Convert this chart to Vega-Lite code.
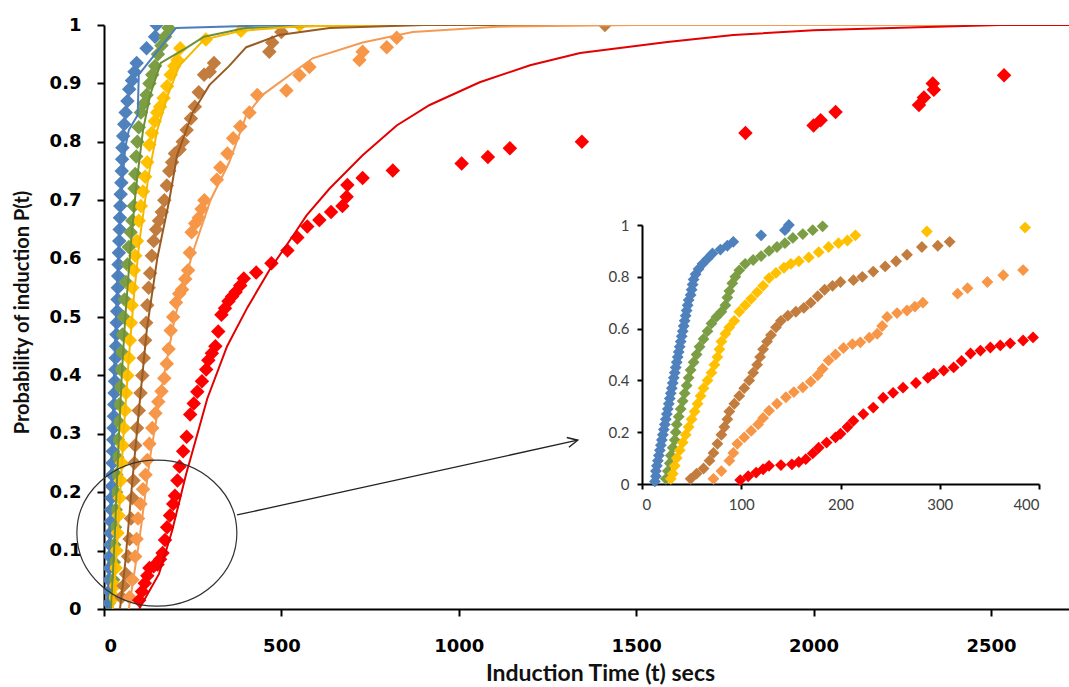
{
"$schema": "https://vega.github.io/schema/vega-lite/v6.json",
"width": 965, "height": 584,
"autosize": {"type": "none"},
"padding": {"left": 104, "top": 25, "right": 0, "bottom": 78},
"background": "white",
"config": {"view": {"stroke": null}, "axis": {"grid": false, "domainColor": "black", "tickColor": "black"}},
"datasets": {
"pts": [
{"s":"B","t":13,"p":0.01},{"s":"B","t":14,"p":0.03},{"s":"B","t":14,"p":0.05},{"s":"B","t":15,"p":0.07},{"s":"B","t":16,"p":0.09},{"s":"B","t":17,"p":0.11},{"s":"B","t":18,"p":0.13},{"s":"B","t":19,"p":0.15},{"s":"B","t":20,"p":0.17},{"s":"B","t":21,"p":0.19},{"s":"B","t":22,"p":0.21},{"s":"B","t":23,"p":0.23},{"s":"B","t":24,"p":0.25},{"s":"B","t":25,"p":0.27},{"s":"B","t":26,"p":0.29},{"s":"B","t":27,"p":0.31},{"s":"B","t":28,"p":0.33},{"s":"B","t":29,"p":0.35},{"s":"B","t":30,"p":0.37},{"s":"B","t":31,"p":0.39},{"s":"B","t":32,"p":0.41},{"s":"B","t":33,"p":0.43},{"s":"B","t":34,"p":0.45},{"s":"B","t":35,"p":0.47},{"s":"B","t":36,"p":0.49},{"s":"B","t":37,"p":0.51},{"s":"B","t":38,"p":0.53},{"s":"B","t":39,"p":0.55},{"s":"B","t":40,"p":0.57},{"s":"B","t":41,"p":0.59},{"s":"B","t":42,"p":0.61},{"s":"B","t":43,"p":0.63},{"s":"B","t":44,"p":0.65},{"s":"B","t":45,"p":0.67},{"s":"B","t":46,"p":0.69},{"s":"B","t":47,"p":0.71},{"s":"B","t":49,"p":0.73},{"s":"B","t":50,"p":0.75},{"s":"B","t":51,"p":0.77},{"s":"B","t":52,"p":0.79},{"s":"B","t":54,"p":0.81},{"s":"B","t":57,"p":0.83},{"s":"B","t":61,"p":0.85},{"s":"B","t":66,"p":0.87},{"s":"B","t":71,"p":0.89},{"s":"B","t":79,"p":0.905},{"s":"B","t":86,"p":0.92},{"s":"B","t":92,"p":0.935},{"s":"B","t":120,"p":0.96},{"s":"B","t":144,"p":0.98},{"s":"B","t":148,"p":1.0},
{"s":"G","t":24,"p":0.02},{"s":"G","t":26,"p":0.05},{"s":"G","t":28,"p":0.08},{"s":"G","t":29,"p":0.11},{"s":"G","t":31,"p":0.14},{"s":"G","t":33,"p":0.17},{"s":"G","t":34,"p":0.2},{"s":"G","t":35,"p":0.23},{"s":"G","t":37,"p":0.26},{"s":"G","t":39,"p":0.29},{"s":"G","t":41,"p":0.32},{"s":"G","t":43,"p":0.35},{"s":"G","t":45,"p":0.38},{"s":"G","t":47,"p":0.41},{"s":"G","t":49,"p":0.44},{"s":"G","t":52,"p":0.47},{"s":"G","t":55,"p":0.5},{"s":"G","t":58,"p":0.53},{"s":"G","t":62,"p":0.56},{"s":"G","t":66,"p":0.59},{"s":"G","t":70,"p":0.62},{"s":"G","t":75,"p":0.645},{"s":"G","t":80,"p":0.665},{"s":"G","t":84,"p":0.69},{"s":"G","t":86,"p":0.72},{"s":"G","t":88,"p":0.745},{"s":"G","t":91,"p":0.775},{"s":"G","t":94,"p":0.8},{"s":"G","t":98,"p":0.825},{"s":"G","t":104,"p":0.85},{"s":"G","t":112,"p":0.865},{"s":"G","t":120,"p":0.88},{"s":"G","t":128,"p":0.9},{"s":"G","t":136,"p":0.915},{"s":"G","t":144,"p":0.93},{"s":"G","t":152,"p":0.95},{"s":"G","t":162,"p":0.965},{"s":"G","t":172,"p":0.98},{"s":"G","t":182,"p":0.995},
{"s":"Y","t":29,"p":0.02},{"s":"Y","t":31,"p":0.04},{"s":"Y","t":33,"p":0.07},{"s":"Y","t":35,"p":0.1},{"s":"Y","t":38,"p":0.13},{"s":"Y","t":41,"p":0.16},{"s":"Y","t":44,"p":0.19},{"s":"Y","t":47,"p":0.22},{"s":"Y","t":50,"p":0.25},{"s":"Y","t":53,"p":0.28},{"s":"Y","t":56,"p":0.31},{"s":"Y","t":59,"p":0.34},{"s":"Y","t":62,"p":0.37},{"s":"Y","t":66,"p":0.4},{"s":"Y","t":70,"p":0.43},{"s":"Y","t":73,"p":0.46},{"s":"Y","t":76,"p":0.49},{"s":"Y","t":78,"p":0.52},{"s":"Y","t":80,"p":0.55},{"s":"Y","t":84,"p":0.58},{"s":"Y","t":88,"p":0.605},{"s":"Y","t":93,"p":0.63},{"s":"Y","t":98,"p":0.665},{"s":"Y","t":104,"p":0.69},{"s":"Y","t":110,"p":0.715},{"s":"Y","t":116,"p":0.74},{"s":"Y","t":122,"p":0.765},{"s":"Y","t":128,"p":0.795},{"s":"Y","t":135,"p":0.815},{"s":"Y","t":143,"p":0.835},{"s":"Y","t":150,"p":0.85},{"s":"Y","t":158,"p":0.86},{"s":"Y","t":168,"p":0.875},{"s":"Y","t":178,"p":0.895},{"s":"Y","t":188,"p":0.915},{"s":"Y","t":198,"p":0.93},{"s":"Y","t":207,"p":0.94},{"s":"Y","t":215,"p":0.96},{"s":"Y","t":287,"p":0.975},{"s":"Y","t":386,"p":0.99},{"s":"Y","t":551,"p":1.0},
{"s":"N","t":49,"p":0.02},{"s":"N","t":55,"p":0.04},{"s":"N","t":62,"p":0.06},{"s":"N","t":68,"p":0.09},{"s":"N","t":72,"p":0.12},{"s":"N","t":76,"p":0.155},{"s":"N","t":80,"p":0.19},{"s":"N","t":83,"p":0.22},{"s":"N","t":86,"p":0.25},{"s":"N","t":88,"p":0.28},{"s":"N","t":93,"p":0.31},{"s":"N","t":98,"p":0.34},{"s":"N","t":103,"p":0.37},{"s":"N","t":108,"p":0.4},{"s":"N","t":112,"p":0.43},{"s":"N","t":116,"p":0.46},{"s":"N","t":119,"p":0.49},{"s":"N","t":122,"p":0.52},{"s":"N","t":126,"p":0.55},{"s":"N","t":130,"p":0.575},{"s":"N","t":135,"p":0.605},{"s":"N","t":140,"p":0.63},{"s":"N","t":147,"p":0.65},{"s":"N","t":155,"p":0.665},{"s":"N","t":163,"p":0.68},{"s":"N","t":170,"p":0.7},{"s":"N","t":177,"p":0.725},{"s":"N","t":184,"p":0.75},{"s":"N","t":192,"p":0.765},{"s":"N","t":200,"p":0.78},{"s":"N","t":213,"p":0.787},{"s":"N","t":222,"p":0.8},{"s":"N","t":233,"p":0.82},{"s":"N","t":245,"p":0.84},{"s":"N","t":256,"p":0.86},{"s":"N","t":267,"p":0.885},{"s":"N","t":282,"p":0.915},{"s":"N","t":298,"p":0.92},{"s":"N","t":310,"p":0.935},{"s":"N","t":466,"p":0.954},{"s":"N","t":474,"p":0.97},{"s":"N","t":500,"p":0.988},{"s":"N","t":1412,"p":1.0},
{"s":"O","t":72,"p":0.02},{"s":"O","t":80,"p":0.05},{"s":"O","t":88,"p":0.09},{"s":"O","t":92,"p":0.12},{"s":"O","t":96,"p":0.155},{"s":"O","t":103,"p":0.18},{"s":"O","t":110,"p":0.205},{"s":"O","t":117,"p":0.23},{"s":"O","t":122,"p":0.255},{"s":"O","t":128,"p":0.283},{"s":"O","t":136,"p":0.31},{"s":"O","t":145,"p":0.335},{"s":"O","t":153,"p":0.355},{"s":"O","t":162,"p":0.373},{"s":"O","t":170,"p":0.395},{"s":"O","t":177,"p":0.42},{"s":"O","t":182,"p":0.445},{"s":"O","t":188,"p":0.477},{"s":"O","t":195,"p":0.5},{"s":"O","t":203,"p":0.525},{"s":"O","t":212,"p":0.54},{"s":"O","t":220,"p":0.547},{"s":"O","t":229,"p":0.565},{"s":"O","t":237,"p":0.58},{"s":"O","t":242,"p":0.61},{"s":"O","t":247,"p":0.645},{"s":"O","t":257,"p":0.66},{"s":"O","t":267,"p":0.67},{"s":"O","t":275,"p":0.685},{"s":"O","t":283,"p":0.7},{"s":"O","t":318,"p":0.735},{"s":"O","t":328,"p":0.756},{"s":"O","t":348,"p":0.78},{"s":"O","t":364,"p":0.806},{"s":"O","t":384,"p":0.826},{"s":"O","t":410,"p":0.85},{"s":"O","t":432,"p":0.88},{"s":"O","t":514,"p":0.888},{"s":"O","t":551,"p":0.914},{"s":"O","t":579,"p":0.928},{"s":"O","t":720,"p":0.94},{"s":"O","t":729,"p":0.954},{"s":"O","t":797,"p":0.962},{"s":"O","t":825,"p":0.978},
{"s":"R","t":99,"p":0.015},{"s":"R","t":107,"p":0.03},{"s":"R","t":115,"p":0.044},{"s":"R","t":122,"p":0.057},{"s":"R","t":128,"p":0.07},{"s":"R","t":140,"p":0.073},{"s":"R","t":151,"p":0.076},{"s":"R","t":158,"p":0.085},{"s":"R","t":165,"p":0.096},{"s":"R","t":172,"p":0.118},{"s":"R","t":178,"p":0.14},{"s":"R","t":186,"p":0.16},{"s":"R","t":195,"p":0.18},{"s":"R","t":200,"p":0.194},{"s":"R","t":207,"p":0.22},{"s":"R","t":213,"p":0.244},{"s":"R","t":223,"p":0.27},{"s":"R","t":233,"p":0.295},{"s":"R","t":243,"p":0.333},{"s":"R","t":253,"p":0.352},{"s":"R","t":263,"p":0.372},{"s":"R","t":276,"p":0.39},{"s":"R","t":288,"p":0.41},{"s":"R","t":294,"p":0.426},{"s":"R","t":304,"p":0.438},{"s":"R","t":314,"p":0.45},{"s":"R","t":322,"p":0.475},{"s":"R","t":331,"p":0.504},{"s":"R","t":341,"p":0.515},{"s":"R","t":351,"p":0.527},{"s":"R","t":361,"p":0.535},{"s":"R","t":371,"p":0.543},{"s":"R","t":384,"p":0.554},{"s":"R","t":394,"p":0.566},{"s":"R","t":429,"p":0.576},{"s":"R","t":472,"p":0.592},{"s":"R","t":517,"p":0.614},{"s":"R","t":545,"p":0.636},{"s":"R","t":573,"p":0.655},{"s":"R","t":607,"p":0.666},{"s":"R","t":640,"p":0.68},{"s":"R","t":672,"p":0.69},{"s":"R","t":684,"p":0.706},{"s":"R","t":686,"p":0.726},{"s":"R","t":729,"p":0.738},{"s":"R","t":814,"p":0.751},{"s":"R","t":1008,"p":0.763},{"s":"R","t":1082,"p":0.774},{"s":"R","t":1144,"p":0.789},{"s":"R","t":1347,"p":0.8},{"s":"R","t":1808,"p":0.815},{"s":"R","t":2000,"p":0.828},{"s":"R","t":2020,"p":0.837},{"s":"R","t":2062,"p":0.851},{"s":"R","t":2297,"p":0.863},{"s":"R","t":2311,"p":0.876},{"s":"R","t":2339,"p":0.889},{"s":"R","t":2336,"p":0.9},{"s":"R","t":2537,"p":0.914}
],
"fit": [
{"s":"B","t":10,"p":0},{"s":"B","t":15,"p":0.1},{"s":"B","t":20,"p":0.22},{"s":"B","t":25,"p":0.33},{"s":"B","t":30,"p":0.43},{"s":"B","t":35,"p":0.52},{"s":"B","t":40,"p":0.6},{"s":"B","t":50,"p":0.72},{"s":"B","t":60,"p":0.79},{"s":"B","t":70,"p":0.82},{"s":"B","t":95,"p":0.846},{"s":"B","t":98,"p":0.915},{"s":"B","t":203,"p":0.995},{"s":"B","t":500,"p":1},{"s":"B","t":2720,"p":1},
{"s":"G","t":20,"p":0},{"s":"G","t":30,"p":0.12},{"s":"G","t":40,"p":0.27},{"s":"G","t":50,"p":0.4},{"s":"G","t":60,"p":0.5},{"s":"G","t":75,"p":0.62},{"s":"G","t":90,"p":0.72},{"s":"G","t":110,"p":0.82},{"s":"G","t":130,"p":0.88},{"s":"G","t":160,"p":0.935},{"s":"G","t":230,"p":0.96},{"s":"G","t":282,"p":0.98},{"s":"G","t":400,"p":0.995},{"s":"G","t":700,"p":1},{"s":"G","t":2720,"p":1},
{"s":"Y","t":25,"p":0},{"s":"Y","t":40,"p":0.14},{"s":"Y","t":55,"p":0.3},{"s":"Y","t":70,"p":0.43},{"s":"Y","t":85,"p":0.54},{"s":"Y","t":100,"p":0.63},{"s":"Y","t":125,"p":0.74},{"s":"Y","t":150,"p":0.82},{"s":"Y","t":180,"p":0.88},{"s":"Y","t":212,"p":0.93},{"s":"Y","t":282,"p":0.975},{"s":"Y","t":387,"p":0.99},{"s":"Y","t":551,"p":0.998},{"s":"Y","t":900,"p":1},{"s":"Y","t":2720,"p":1},
{"s":"N","t":45,"p":0},{"s":"N","t":60,"p":0.08},{"s":"N","t":80,"p":0.22},{"s":"N","t":100,"p":0.35},{"s":"N","t":121,"p":0.48},{"s":"N","t":150,"p":0.6},{"s":"N","t":184,"p":0.7},{"s":"N","t":206,"p":0.777},{"s":"N","t":250,"p":0.85},{"s":"N","t":297,"p":0.897},{"s":"N","t":353,"p":0.93},{"s":"N","t":401,"p":0.962},{"s":"N","t":494,"p":0.983},{"s":"N","t":636,"p":0.995},{"s":"N","t":900,"p":1},{"s":"N","t":2720,"p":1},
{"s":"O","t":70,"p":0},{"s":"O","t":100,"p":0.12},{"s":"O","t":130,"p":0.26},{"s":"O","t":160,"p":0.37},{"s":"O","t":200,"p":0.5},{"s":"O","t":250,"p":0.61},{"s":"O","t":300,"p":0.7},{"s":"O","t":353,"p":0.765},{"s":"O","t":401,"p":0.845},{"s":"O","t":446,"p":0.88},{"s":"O","t":588,"p":0.943},{"s":"O","t":729,"p":0.97},{"s":"O","t":870,"p":0.988},{"s":"O","t":1107,"p":0.997},{"s":"O","t":1500,"p":1},{"s":"O","t":2720,"p":1},
{"s":"R","t":99,"p":0},{"s":"R","t":155,"p":0.06},{"s":"R","t":192,"p":0.134},{"s":"R","t":231,"p":0.23},{"s":"R","t":268,"p":0.31},{"s":"R","t":291,"p":0.36},{"s":"R","t":347,"p":0.45},{"s":"R","t":404,"p":0.516},{"s":"R","t":466,"p":0.58},{"s":"R","t":537,"p":0.643},{"s":"R","t":571,"p":0.674},{"s":"R","t":636,"p":0.72},{"s":"R","t":729,"p":0.777},{"s":"R","t":825,"p":0.828},{"s":"R","t":918,"p":0.863},{"s":"R","t":1059,"p":0.902},{"s":"R","t":1201,"p":0.931},{"s":"R","t":1342,"p":0.952},{"s":"R","t":1588,"p":0.971},{"s":"R","t":1774,"p":0.983},{"s":"R","t":2000,"p":0.991},{"s":"R","t":2294,"p":0.996},{"s":"R","t":2528,"p":1},{"s":"R","t":2720,"p":1}
],
"arrow": [{"t":375,"p":0.161},{"t":1335,"p":0.289}],
"head": [{"t":1335,"p":0.289}],
"ell": [{"t":149,"p":0.13}]
},
"layer": [
{
"layer": [
{"data": {"name": "pts"},
 "mark": {"type": "point", "shape": "diamond", "filled": true, "size": 210, "opacity": 1, "clip": true},
 "encoding": {
  "x": {"field": "t", "type": "quantitative", "scale": {"domain": [0, 2720], "nice": false, "zero": true},
   "axis": {"values": [0,500,1000,1500,2000,2500], "format": "d", "domainWidth": 2, "tickWidth": 2, "tickSize": 7, "labelFont": "DejaVu Sans", "labelFontWeight": "bold", "labelFontSize": 18, "labelColor": "black", "labelPadding": 21,
     "title": "Induction Time (t) secs", "titleFont": "Lato", "titleFontSize": 23, "titleFontWeight": "bold", "titleColor": "#111", "titleX": 496, "titleY": 64, "titleBaseline": "middle", "titleAlign": "center"}},
  "y": {"field": "p", "type": "quantitative", "scale": {"domain": [0, 1], "nice": false},
   "axis": {"values": [0,0.1,0.2,0.3,0.4,0.5,0.6,0.7,0.8,0.9,1], "format": "~g", "domainWidth": 2, "tickWidth": 2, "tickSize": 7, "labelFont": "DejaVu Sans", "labelFontWeight": "bold", "labelFontSize": 18, "labelColor": "black", "labelPadding": 16,
     "title": "Probability of induction P(t)", "titleFont": "Lato", "titleFontSize": 20, "titleFontWeight": "bold", "titleColor": "#111", "titleX": -82, "titleY": 287, "titleAngle": -90, "titleBaseline": "middle", "titleAlign": "center"}},
  "fill": {"field": "s", "type": "nominal", "legend": null, "sort": ["B","G","Y","N","O","R"],
   "scale": {"domain": ["B","G","Y","N","O","R"], "range": ["#4F81BD","#7B9E44","#FFC000","#C27C3E","#F79646","#FF0000"]}}
 }},
{"data": {"name": "fit"},
 "mark": {"type": "line", "strokeWidth": 2, "clip": true},
 "encoding": {
  "x": {"field": "t", "type": "quantitative"},
  "y": {"field": "p", "type": "quantitative"},
  "detail": {"field": "s"},
  "stroke": {"field": "s", "type": "nominal", "legend": null,
   "scale": {"domain": ["B","G","Y","N","O","R"], "range": ["#4A7EBB","#6E8F35","#F5B800","#9A5B22","#F59A52","#E30000"]}}
 }},
{"data": {"name": "ell"},
 "mark": {"type": "point", "shape": "M -1 0 A 1 0.9125 0 1 1 1 0 A 1 0.9125 0 1 1 -1 0 Z", "size": 25600, "filled": false, "stroke": "#333333", "strokeWidth": 1.2, "opacity": 1},
 "encoding": {"x": {"field": "t", "type": "quantitative"}, "y": {"field": "p", "type": "quantitative"}}},
{"data": {"name": "arrow"},
 "mark": {"type": "line", "stroke": "#222222", "strokeWidth": 1.3},
 "encoding": {"x": {"field": "t", "type": "quantitative"}, "y": {"field": "p", "type": "quantitative"}}},
{"data": {"name": "head"},
 "mark": {"type": "point", "shape": "M -1 -0.5 L 0 0 L -1 0.5", "size": 400, "filled": false, "stroke": "#222222", "strokeWidth": 1.5, "angle": 347.6, "opacity": 1},
 "encoding": {"x": {"field": "t", "type": "quantitative"}, "y": {"field": "p", "type": "quantitative"}}}
]
},
{"data": {"name": "pts"},
 "transform": [{"filter": "datum.t <= 400"}],
 "mark": {"type": "point", "shape": "diamond", "filled": true, "size": 140, "opacity": 1},
 "encoding": {
  "x": {"field": "t", "type": "quantitative", "scale": {"domain": [0, 400], "range": [538, 935], "nice": false},
   "axis": {"orient": "bottom", "offset": -125, "values": [0,100,200,300,400], "domainWidth": 2, "tickWidth": 2, "tickSize": 5, "labelFont": "Lato", "labelFontSize": 15, "labelColor": "#404040", "labelPadding": 8, "title": null}},
  "y": {"field": "p", "type": "quantitative", "scale": {"domain": [0, 1], "range": [459, 200], "nice": false},
   "axis": {"orient": "left", "offset": -538, "values": [0,0.2,0.4,0.6,0.8,1], "format": "~g", "domainWidth": 2, "tickWidth": 2, "tickSize": 5, "labelFont": "Lato", "labelFontSize": 15, "labelColor": "#404040", "labelPadding": 8, "title": null}},
  "fill": {"field": "s", "type": "nominal", "legend": null}
 }}
],
"resolve": {"scale": {"x": "independent", "y": "independent"}, "axis": {"x": "independent", "y": "independent"}}
}
